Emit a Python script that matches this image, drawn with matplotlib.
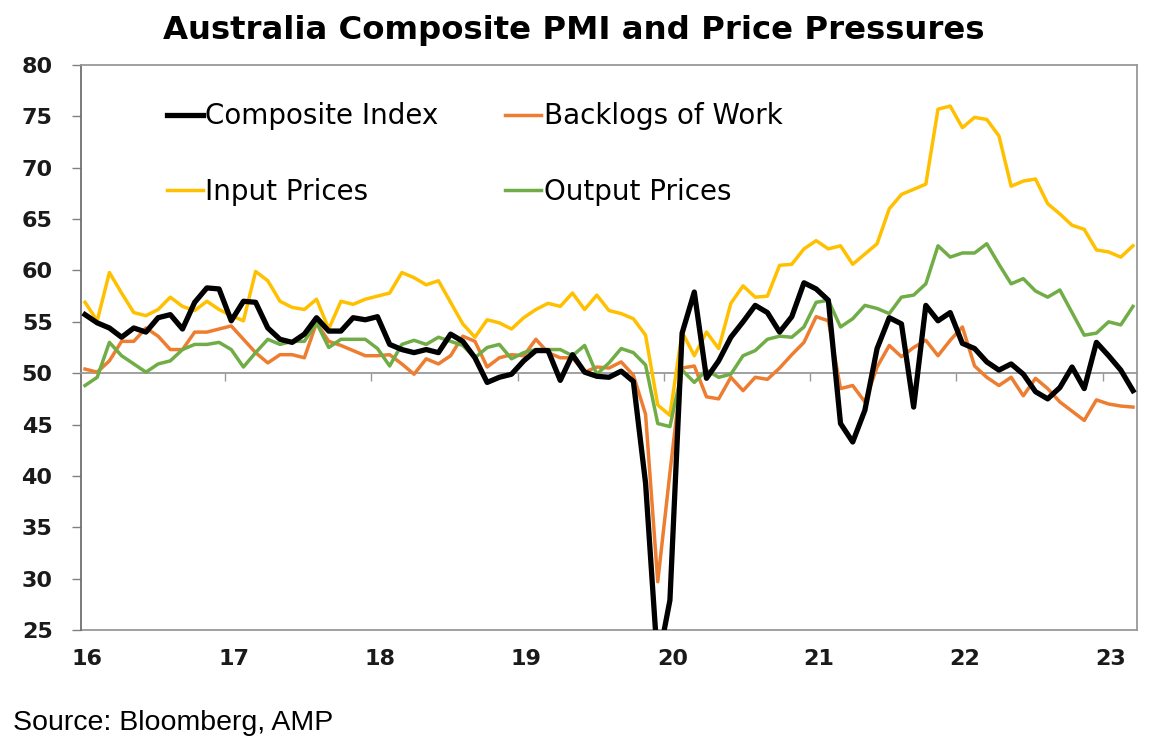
import numpy as np
import matplotlib.pyplot as plt

# monthly, Jan 2016 - Mar 2023
years = ['16', '17', '18', '19', '20', '21', '22', '23']

composite = [55.7, 54.9, 54.4, 53.5, 54.4, 54.0, 55.4, 55.7, 54.3, 56.9, 58.3, 58.2,
             55.1, 57.0, 56.9, 54.4, 53.3, 53.0, 53.8, 55.4, 54.1, 54.1, 55.4, 55.2,
             55.5, 52.8, 52.3, 52.0, 52.3, 52.0, 53.8, 53.1, 51.5, 49.1, 49.6, 49.9,
             51.2, 52.2, 52.2, 49.3, 51.8, 50.1, 49.7, 49.6, 50.2, 49.2, 39.3, 21.7,
             27.9, 53.9, 57.9, 49.5, 51.2, 53.5, 55.0, 56.6, 55.9, 54.0, 55.5, 58.8,
             58.2, 57.1, 45.1, 43.3, 46.4, 52.4, 55.4, 54.8, 46.7, 56.6, 55.1, 55.9,
             52.9, 52.4, 51.1, 50.3, 50.9, 49.9, 48.2, 47.5, 48.6, 50.6, 48.5, 53.0,
             51.7, 50.3, 48.3]

backlogs = [50.4, 50.1, 51.2, 53.1, 53.1, 54.4, 53.6, 52.3, 52.3, 54.0, 54.0, 54.3,
            54.6, 53.3, 52.0, 51.0, 51.8, 51.8, 51.5, 54.9, 53.1, 52.7, 52.2, 51.7,
            51.7, 51.8, 50.9, 49.9, 51.4, 50.9, 51.7, 53.6, 53.1, 50.6, 51.5, 51.8,
            51.7, 53.3, 52.0, 51.5, 51.5, 50.1, 50.6, 50.5, 51.1, 49.8, 46.0, 29.7,
            40.3, 50.5, 50.7, 47.7, 47.5, 49.6, 48.3, 49.6, 49.4, 50.5, 51.8, 53.0,
            55.5, 55.1, 48.5, 48.8, 47.2, 50.6, 52.7, 51.6, 52.5, 53.2, 51.7, 53.2,
            54.5, 50.7, 49.6, 48.8, 49.6, 47.8, 49.5, 48.5, 47.2, 46.3, 45.4, 47.4,
            47.0, 46.8, 46.7]

input_prices = [56.9, 55.1, 59.8, 57.8, 55.9, 55.6, 56.2, 57.4, 56.5, 56.1, 57.0, 56.2,
                55.6, 55.1, 59.9, 59.0, 57.0, 56.4, 56.2, 57.2, 54.3, 57.0, 56.7, 57.2,
                57.5, 57.8, 59.8, 59.3, 58.6, 59.0, 56.9, 54.8, 53.5, 55.2, 54.9, 54.3,
                55.4, 56.2, 56.8, 56.5, 57.8, 56.2, 57.6, 56.1, 55.8, 55.3, 53.7, 46.9,
                45.9, 54.0, 51.7, 54.0, 52.4, 56.8, 58.5, 57.4, 57.5, 60.5, 60.6, 62.1,
                62.9, 62.1, 62.4, 60.6, 61.6, 62.6, 66.0, 67.4, 67.9, 68.4, 75.7, 76.0,
                73.9, 74.9, 74.7, 73.1, 68.2, 68.7, 68.9, 66.5, 65.5, 64.4, 64.0, 62.0,
                61.8, 61.3, 62.4]

output_prices = [48.8, 49.6, 53.0, 51.7, 50.9, 50.1, 50.9, 51.2, 52.3, 52.8, 52.8, 53.0,
                 52.3, 50.6, 52.0, 53.3, 52.8, 53.1, 53.1, 54.9, 52.5, 53.3, 53.3, 53.3,
                 52.4, 50.7, 52.8, 53.2, 52.8, 53.5, 53.1, 52.7, 51.5, 52.5, 52.8, 51.4,
                 52.0, 52.3, 52.3, 52.3, 51.7, 52.7, 49.9, 51.0, 52.4, 52.0, 50.8, 45.1,
                 44.8, 50.3, 49.1, 50.3, 49.6, 49.9, 51.7, 52.2, 53.3, 53.6, 53.5, 54.5,
                 56.9, 57.1, 54.5, 55.3, 56.6, 56.3, 55.8, 57.4, 57.6, 58.7, 62.4, 61.3,
                 61.7, 61.7, 62.6, 60.6, 58.7, 59.2, 58.0, 57.4, 58.1, 55.9, 53.7, 53.9,
                 55.0, 54.7, 56.5]

x = np.arange(len(composite))

fig = plt.figure(figsize=(11.68, 7.41), dpi=100)
ax = fig.add_axes([81/1168, 1 - 630/741, 1056/1168, 565/741])

ax.plot(x, composite, color='black', lw=3.8, label='Composite Index', zorder=5)
ax.plot(x, input_prices, color='#FFC000', lw=2.5, label='Input Prices', zorder=3)
ax.plot(x, backlogs, color='#ED7D31', lw=2.5, label='Backlogs of Work', zorder=3)
ax.plot(x, output_prices, color='#70AD47', lw=2.5, label='Output Prices', zorder=4)

ax.set_xlim(-0.33, len(x) - 1 + 0.33)
ax.set_ylim(25, 80)
ax.set_yticks(np.arange(25, 81, 5))
ax.tick_params(axis='y', direction='out', length=6.5, width=1, color='#808080',
               pad=14, labelsize=16)
for lbl in ax.get_yticklabels():
    lbl.set_fontweight('bold')
    lbl.set_color('#1a1a1a')

# x axis crosses at 50, year ticks there, labels at the bottom
ax.spines['bottom'].set_position(('data', 50))
ax.spines['bottom'].set_color('#999999')
ax.spines['bottom'].set_linewidth(1.3)
ax.set_xticks([12 * k - 0.5 for k in range(1, len(years))])
ax.tick_params(axis='x', direction='out', length=6, width=1, color='#999999',
               labelbottom=False)

sec = ax.secondary_xaxis('bottom')
sec.set_xticks([12 * k + 0.2 for k in range(len(years))])
sec.set_xticklabels(years, fontsize=16, fontweight='bold', color='#1a1a1a')
sec.tick_params(axis='x', length=0, pad=14)
sec.spines['bottom'].set_color('#999999')
sec.spines['bottom'].set_linewidth(1.3)

for s in ['top', 'right']:
    ax.spines[s].set_color('#999999')
    ax.spines[s].set_linewidth(1.3)
ax.spines['left'].set_color('#707070')
ax.spines['left'].set_linewidth(1.3)

ax.legend(loc='upper left', bbox_to_anchor=(0.081, 0.934), ncol=2, frameon=False,
          fontsize=20, handlelength=1.3, handletextpad=0.1, columnspacing=2.4,
          labelspacing=1.72, borderpad=0, borderaxespad=0)

fig.text(574/1168, 1 - 39/741, 'Australia Composite PMI and Price Pressures',
         ha='center', va='baseline', fontsize=23.3, fontweight='bold')
fig.text(13/1168, 1 - 730/741, 'Source: Bloomberg, AMP', ha='left', va='baseline',
         fontsize=20.5, family='Liberation Sans')

fig.savefig('out.png', dpi=100)
